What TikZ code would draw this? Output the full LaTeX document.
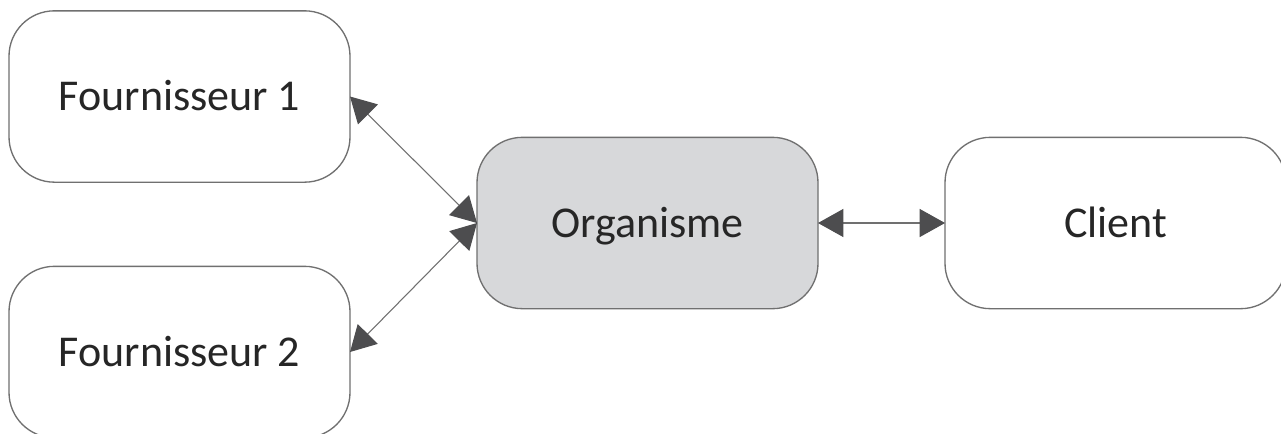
\documentclass[tikz,border=0pt]{standalone}
\usepackage{fontspec}
\setmainfont{Carlito}
\usetikzlibrary{arrows.meta}
\definecolor{boxline}{HTML}{707070}
\definecolor{tipgray}{HTML}{4D4D4F}
\definecolor{orgfill}{HTML}{D7D8DA}
\definecolor{txt}{HTML}{262626}
\tikzset{
  entity/.style={draw=boxline, line width=1pt, rounded corners=34pt,
    minimum width=255.75pt, minimum height=128.5pt, outer sep=0pt,
    font=\fontsize{33}{40}\selectfont, text=txt,
    text height=21.3pt, text depth=0pt},
  flow/.style={draw=boxline, line width=0.8pt,
    {Triangle[length=19pt,width=21pt,color=tipgray]}-{Triangle[length=19pt,width=21pt,color=tipgray]}}
}
\begin{document}
\begin{tikzpicture}[x=0.75pt, y=-0.75pt]
            \clip (0,0) rectangle (1281,433);
            \fill[white] (0,0) rectangle (1281,433);
            \begin{scope}
                \node[entity] (four1) at (179.5,96.5) {Fournisseur 1};
                \node[entity] (four2) at (179.5,352) {Fournisseur 2};
            \end{scope}
            \begin{scope}
                \node[entity, fill=orgfill] (org) at (647.5,223) {Organisme};
                \node[entity] (client) at (1115.5,223) {Client};
            \end{scope}
            \draw[flow] (four1.east) -- (org.west);
            \draw[flow] (four2.east) -- (org.west);
            \draw[flow] (org.east) -- (client.west);
        \end{tikzpicture}
\end{document}
